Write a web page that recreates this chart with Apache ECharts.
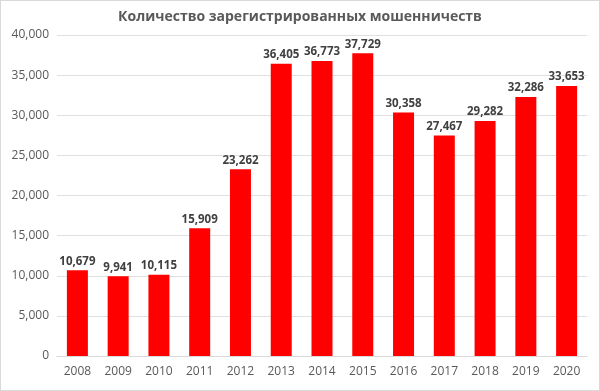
<!DOCTYPE html>
<html><head><meta charset="utf-8">
<script src="https://cdn.jsdelivr.net/npm/echarts@6/dist/echarts.min.js"></script>
<style>html,body{margin:0;padding:0;background:#fff}#c{width:600px;height:391px;box-sizing:border-box;border:1px solid #d9d9d9}</style>
</head><body><div id="c"></div>
<script>
const titleText = 'Количество зарегистрированных мошенничеств';
const years = ['2008','2009','2010','2011','2012','2013','2014','2015','2016','2017','2018','2019','2020'];
const frauds = [10679, 9941, 10115, 15909, 23262, 36405, 36773, 37729, 30358, 27467, 29282, 32286, 33653];
const chart = echarts.init(document.getElementById('c'));
chart.setOption({
  animation: false,
  title: { text: titleText, left: 'center', top: 4,
    textStyle: { fontFamily: 'Open Sans, Calibri, sans-serif', fontSize: 14, fontWeight: 'bold', color: '#595959' } },
  grid: { left: 56, right: 12, top: 34, bottom: 34, containLabel: false },
  xAxis: { type: 'category', data: years,
    axisLine: { lineStyle: { color: '#d9d9d9' } }, axisTick: { show: false },
    axisLabel: { color: '#595959', fontSize: 12, fontFamily: 'Open Sans, sans-serif', margin: 10 } },
  yAxis: { type: 'value', min: 0, max: 40000, interval: 5000,
    axisLine: { show: false }, axisTick: { show: false },
    splitLine: { lineStyle: { color: '#e0e0e0' } },
    axisLabel: { color: '#595959', fontSize: 12, fontFamily: 'Open Sans, sans-serif', margin: 8,
      formatter: v => v === 0 ? '0' : v.toLocaleString('en-US') } },
  series: [{ type: 'bar', data: frauds, barWidth: 21,
    itemStyle: { color: '#ff0000' },
    label: { show: true, position: 'top', distance: 3, color: '#404040', fontWeight: 'bold', fontSize: 11.5,
      fontFamily: 'Open Sans, sans-serif', formatter: p => p.value.toLocaleString('en-US') } }]
});
</script></body></html>
